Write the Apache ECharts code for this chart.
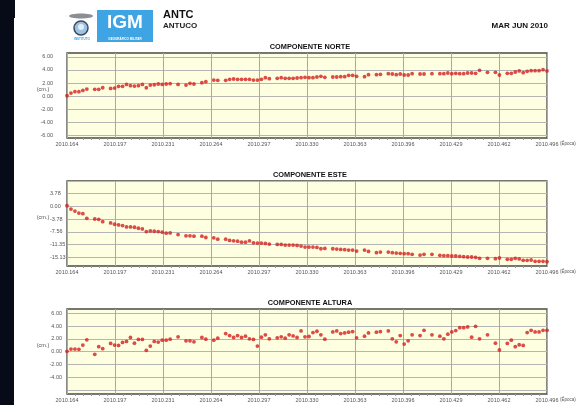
<!DOCTYPE html>
<html>
<head>
<meta charset="utf-8">
<script src="https://cdn.jsdelivr.net/npm/echarts@6/dist/echarts.min.js"></script>
<style>
html, body { margin: 0; padding: 0; background: #fff; }
#chart { width: 578px; height: 405px; }
</style>
</head>
<body>
<div id="chart"></div>
<script>
// etiquetas del eje de epocas (una cada 12.1 dias)
var tickLabels = ['2010.164', '2010.197', '2010.231', '2010.264', '2010.297', '2010.330',
    '2010.363', '2010.396', '2010.429', '2010.462', '2010.496'];
// dias desde 2010.164 con solucion diaria
var days = [0, 1, 2, 3, 4, 5, 7, 8, 9, 11, 12, 13, 14, 15, 16, 17, 18, 19, 20, 21, 22, 23, 24, 25, 26,
    28, 30, 31, 32, 34, 35, 37, 38, 40, 41, 42, 43, 44, 45, 46, 47, 48, 49, 50, 51,
    53, 54, 55, 56, 57, 58, 59, 60, 61, 62, 63, 64, 65, 67, 68, 69, 70, 71, 72, 73,
    75, 76, 78, 79, 81, 82, 83, 84, 85, 86, 87, 89, 90, 92,
    94, 95, 96, 97, 98, 99, 100, 101, 102, 103, 104, 106, 108, 109,
    111, 112, 113, 114, 115, 116, 117, 118, 119, 120, 121];
var norte = [0.05, 0.46, 0.67, 0.67, 0.87, 1.08, 1.03, 1.03, 1.28,
    1.18, 1.23, 1.49, 1.49, 1.79, 1.59, 1.54, 1.59, 1.79, 1.28, 1.69, 1.74, 1.85, 1.79, 1.85, 1.90,
    1.79, 1.69, 1.95, 1.85, 2.05, 2.21, 2.46, 2.41,
    2.41, 2.56, 2.62, 2.56, 2.56, 2.56, 2.56, 2.46, 2.46, 2.56, 2.82, 2.67,
    2.72, 2.82, 2.72, 2.72, 2.72, 2.77, 2.82, 2.87, 2.82, 2.82, 2.92, 3.03, 2.87,
    2.92, 2.92, 2.97, 2.97, 3.18, 3.18, 3.03, 2.97, 3.28, 3.28, 3.33,
    3.44, 3.38, 3.28, 3.38, 3.23, 3.23, 3.44, 3.38, 3.38, 3.44,
    3.44, 3.44, 3.54, 3.44, 3.49, 3.44, 3.44, 3.54, 3.54, 3.49, 3.95, 3.64, 3.64, 3.23,
    3.49, 3.49, 3.69, 3.85, 3.59, 3.79, 3.90, 3.90, 3.90, 4.05, 3.85];
var este = [0.20, -0.79, -1.37, -1.96, -2.16, -3.54, -3.73, -3.83, -4.52,
    -4.91, -5.30, -5.50, -5.70, -6.09, -6.09, -6.19, -6.48, -6.68, -7.46, -7.27, -7.37, -7.46, -7.66, -7.95, -7.86,
    -8.35, -8.74, -8.74, -8.84, -8.84, -9.23, -9.33, -9.72,
    -9.72, -10.11, -10.21, -10.31, -10.61, -10.61, -10.21, -10.80, -10.90, -10.90, -11.00, -11.19,
    -11.29, -11.29, -11.49, -11.49, -11.49, -11.59, -11.78, -12.08, -12.08, -12.08, -12.18, -12.57, -12.47,
    -12.57, -12.67, -12.77, -12.86, -12.96, -12.96, -13.26, -12.96, -13.36, -13.75, -13.55,
    -13.55, -13.75, -13.85, -13.94, -14.04, -14.04, -14.24, -14.44, -14.24, -14.24,
    -14.53, -14.63, -14.63, -14.73, -14.73, -14.83, -14.93, -15.02, -15.02, -15.12, -15.42, -15.42, -15.52, -15.32,
    -15.71, -15.71, -15.42, -15.61, -16.01, -16.01, -15.91, -16.30, -16.30, -16.30, -16.40];
var altura = [0.05, 0.41, 0.41, 0.36, 1.03, 1.85, -0.41, 0.77, 0.46,
    1.28, 1.03, 0.97, 1.44, 1.59, 2.21, 1.33, 1.90, 1.90, 0.21, 0.87, 1.59, 1.49, 1.79, 1.79, 1.95,
    2.31, 1.69, 1.69, 1.54, 2.21, 1.95, 1.79, 2.10,
    2.82, 2.51, 2.21, 2.51, 2.21, 2.41, 2.00, 1.90, 0.87, 2.26, 2.62, 2.00,
    2.15, 2.31, 2.10, 2.62, 2.46, 2.21, 3.23, 2.31, 2.36, 2.97, 3.18, 2.62, 1.95,
    3.08, 3.23, 2.82, 2.92, 3.03, 3.13, 2.15, 2.41, 2.92, 3.03, 3.13,
    3.23, 2.00, 1.54, 2.51, 1.18, 1.69, 2.62, 2.51, 3.33, 2.62,
    2.41, 2.00, 2.72, 3.08, 3.28, 3.74, 3.74, 3.85, 2.26, 3.95, 2.00, 2.62, 1.33, 0.26,
    1.28, 1.79, 0.77, 1.08, 0.97, 2.97, 3.33, 3.08, 3.08, 3.33, 3.33];
// marcas del eje vertical
var norteTicks = [-6, -4, -2, 0, 2, 4, 6];
var esteTicks = [-15.13, -11.35, -7.56, -3.78, 0, 3.78];
var esteLines = [-15.13, -11.35, -7.56, -3.78, 0, 3.78, 7.56];
var alturaTicks = [-4, -2, 0, 2, 4, 6];
var alturaLines = [-6, -4, -2, 0, 2, 4, 6];

var titulos = ['COMPONENTE NORTE', 'COMPONENTE ESTE', 'COMPONENTE ALTURA'];
var series_ = [norte, este, altura];
var rangos = [[-6.42, 6.6], [-17.7, 7.56], [-6.6, 6.65]];
var labelVals = [norteTicks, esteTicks, alturaTicks];
var lineVals = [norteTicks, esteLines, alturaLines];
var tops = [53, 181, 309];
// cada panel alinea sus etiquetas de forma distinta
var labAlign = ['right', 'left', 'right'];
var labMargin = [14, 17, 5];

var fuente = '"Liberation Sans Narrow", "Liberation Sans", Arial, sans-serif';
var myChart = echarts.init(document.getElementById('chart'));

var grid = [], xAxis = [], yAxis = [], series = [], graphic = [];
for (var i = 0; i < 3; i++) {
    grid.push({
        left: 67, right: 31, top: tops[i], height: 85, outerBoundsMode: 'none',
        show: true, backgroundColor: '#fefee0', borderColor: '#4a4a4a', borderWidth: 1.3
    });
    xAxis.push({
        type: 'value', gridIndex: i, min: 0, max: 121, interval: 12.1,
        axisLine: { show: false, onZero: false },
        axisTick: { show: false },
        minorTick: { show: true, splitNumber: 6, length: 2, lineStyle: { color: '#999' } },
        axisLabel: {
            fontFamily: fuente, fontSize: 5.5, color: '#555', margin: 3,
            formatter: function (v) { return tickLabels[Math.round(v / 12.1)]; }
        },
        splitLine: { show: true, lineStyle: { color: '#a9a9a9', width: 1 } }
    });
    yAxis.push({
        type: 'value', gridIndex: i, min: rangos[i][0], max: rangos[i][1],
        axisLine: { show: false, onZero: false },
        axisTick: { show: false, customValues: lineVals[i] },
        axisLabel: {
            customValues: labelVals[i], fontFamily: fuente, fontSize: 5.5, color: '#555',
            margin: labMargin[i], align: labAlign[i],
            formatter: function (v) { return v.toFixed(2); }
        },
        splitLine: { show: true, lineStyle: { color: '#b5b5b5', width: 1 } }
    });
    series.push({
        type: 'scatter', xAxisIndex: i, yAxisIndex: i, symbol: 'circle', symbolSize: 3.8,
        itemStyle: { color: '#d21f1f' },
        data: days.map(function (d, j) { return [d, series_[i][j]]; })
    });
    graphic.push({
        type: 'text', x: 310, y: tops[i] - 6, scaleX: 0.92,
        style: { text: titulos[i], font: 'bold 8px ' + fuente, fill: '#111', align: 'center', verticalAlign: 'middle' }
    });
    graphic.push({
        type: 'text', x: 43, y: tops[i] + 36,
        style: { text: '(cm.)', font: '5.5px ' + fuente, fill: '#555', align: 'center', verticalAlign: 'middle' }
    });
    graphic.push({
        type: 'text', x: 560, y: tops[i] + 91, scaleX: 0.9,
        style: { text: '(Época)', font: '5px ' + fuente, fill: '#555', align: 'left', verticalAlign: 'middle' }
    });
}

// franja oscura izquierda y encabezado
graphic.push(
    { type: 'rect', shape: { x: 0, y: 0, width: 14, height: 405 }, style: { fill: '#070b18' } },
    { type: 'rect', shape: { x: 0, y: 0, width: 15, height: 18 }, style: { fill: '#070b18' } },
    { type: 'rect', shape: { x: 97, y: 10, width: 56, height: 32 }, style: { fill: '#3ea4e4' } },
    { type: 'text', x: 125, y: 23, style: { text: 'IGM', font: 'bold 19px "Liberation Sans", Arial', fill: '#fff', align: 'center', verticalAlign: 'middle' } },
    { type: 'text', x: 125, y: 39.5, style: { text: 'GEOGRÁFICO MILITAR', font: 'bold 3px "Liberation Sans"', fill: '#fff', align: 'center', verticalAlign: 'middle' } },
    { type: 'text', x: 82, y: 39.5, style: { text: 'INSTITUTO', font: 'bold 3px "Liberation Sans"', fill: '#3ea4e4', align: 'center', verticalAlign: 'middle' } },
    { type: 'ellipse', shape: { cx: 81, cy: 16, rx: 12, ry: 2.5 }, style: { fill: '#8a8f96' } },
    { type: 'circle', shape: { cx: 81, cy: 28, r: 7 }, style: { fill: '#9cc3e6', stroke: '#3d4a5c', lineWidth: 1.5 } },
    { type: 'circle', shape: { cx: 81, cy: 27, r: 3 }, style: { fill: '#e8eef5' } },
    { type: 'text', x: 163, y: 14.5, style: { text: 'ANTC', font: 'bold 11px ' + fuente, fill: '#111', verticalAlign: 'middle' } },
    { type: 'text', x: 163, y: 25.5, style: { text: 'ANTUCO', font: 'bold 8px ' + fuente, fill: '#222', verticalAlign: 'middle' } },
    { type: 'text', x: 548, y: 26, style: { text: 'MAR JUN 2010', font: 'bold 8px ' + fuente, fill: '#111', align: 'right', verticalAlign: 'middle' } }
);

myChart.setOption({
    animation: false,
    backgroundColor: '#fff',
    grid: grid,
    xAxis: xAxis,
    yAxis: yAxis,
    series: series,
    graphic: graphic
});
</script>
</body>
</html>
